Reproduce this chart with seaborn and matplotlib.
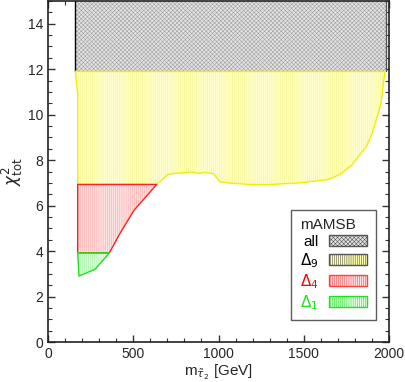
import numpy as np
import pandas as pd
import matplotlib
matplotlib.use("Agg")
import matplotlib.pyplot as plt
import seaborn as sns
from matplotlib.patches import Patch

# ---- data ----
all_x = [160, 1985, 1985, 160]
all_y = [11.9, 11.9, 15.0, 15.0]

d9_x = [160, 174, 174, 637, 706, 755, 833, 891, 920, 970, 1009, 1048, 1185, 1283,
        1478, 1644, 1712, 1781, 1869, 1898, 1937, 1953, 1976]
d9_y = [11.9, 10.9, 6.93, 6.93, 7.38, 7.42, 7.48, 7.42, 7.46, 7.40, 7.05, 7.00, 6.93, 6.92,
        7.00, 7.15, 7.37, 7.78, 8.62, 9.13, 10.06, 10.5, 11.9]

d4_x = [174, 174, 360, 420, 505, 570, 637]
d4_y = [6.93, 3.92, 3.92, 4.75, 5.8, 6.35, 6.93]

d1_x = [174, 182, 276, 360]
d1_y = [3.92, 2.9, 3.2, 3.92]

sns.set_style("ticks")
plt.rcParams['font.family'] = ['Liberation Sans', 'DejaVu Sans']
plt.rcParams['hatch.linewidth'] = 0.4

fig = plt.figure(figsize=(4.05, 3.82), dpi=100)
ax = fig.add_axes([48/405, 1-342/382, 341/405, 341/382])

GREY_F, GREY_H = '#e4e4e4', '#a0a0a0'
YEL_F, YEL_H = '#ffffd0', '#f6f680'
RED_F, RED_H = '#ffe4e4', '#ffa0a0'
GRN_F, GRN_H = '#e8ffe8', '#90f090'

# grey region
ax.fill(all_x, all_y, facecolor=GREY_F, edgecolor=GREY_H, hatch='xxxxxxxx', lw=0)
ax.plot([all_x[0], all_x[0]], [11.9, 15], color='black', lw=1)
ax.plot([all_x[1], all_x[1]], [11.9, 15], color='#555555', lw=1)

# yellow region
ax.fill(d9_x + [1976], d9_y + [11.9], facecolor=YEL_F, edgecolor=YEL_H, hatch='||||||||', lw=0)
df9 = pd.DataFrame({'x': d9_x + [160], 'y': d9_y + [11.9]})
sns.lineplot(data=df9, x='x', y='y', sort=False, estimator=None, color='#f0f000', lw=1, ax=ax)

# red region
ax.fill(d4_x, d4_y, facecolor=RED_F, edgecolor=RED_H, hatch='||||||||', lw=0)
df4 = pd.DataFrame({'x': d4_x + [d4_x[0]], 'y': d4_y + [d4_y[0]]})
sns.lineplot(data=df4, x='x', y='y', sort=False, estimator=None, color='#ff2020', lw=1, ax=ax)

# green region
ax.fill(d1_x, d1_y, facecolor=GRN_F, edgecolor=GRN_H, hatch='||||||||', lw=0)
df1 = pd.DataFrame({'x': d1_x + [d1_x[0]], 'y': d1_y + [d1_y[0]]})
sns.lineplot(data=df1, x='x', y='y', sort=False, estimator=None, color='#20e020', lw=1, ax=ax)

ax.set_xlim(0, 2000)
ax.set_ylim(0, 15)
ax.set_xticks(np.arange(0, 2001, 500))
ax.set_xticks(np.arange(0, 2001, 100), minor=True)
ax.set_yticks(np.arange(0, 15, 2))
ax.set_yticks(np.arange(0, 15.01, 0.5), minor=True)
ax.tick_params(which='both', direction='in', top=True, right=True, labelsize=10, color='#333333')
ax.tick_params(which='major', length=5, width=1)
ax.tick_params(which='minor', length=3, width=0.8)
for s in ax.spines.values():
    s.set_linewidth(1.2)
    s.set_color('#222222')

ax.set_xlabel(r'm$_{\tilde{\tau}_2}$ [GeV]', fontsize=11, labelpad=1)
ax.set_ylabel(r'$\chi^2_{\rm tot}$', fontsize=12, labelpad=2)

handles = [
    Patch(facecolor=GREY_F, edgecolor='#555555', hatch='xxxxxxxx', lw=1),
    Patch(facecolor='#ffffb0', edgecolor='#555555', hatch='||||||||', lw=1),
    Patch(facecolor=RED_F, edgecolor='#ff4040', hatch='||||||||', lw=1),
    Patch(facecolor=GRN_F, edgecolor='#20e020', hatch='||||||||', lw=1),
]
labels = ['all', r'$\Delta_9$', r'$\Delta_4$', r'$\Delta_1$']
leg = ax.legend(handles, labels, title='mAMSB', loc='lower right',
                bbox_to_anchor=(0.961, 0.0645), markerfirst=False, fontsize=11,
                title_fontsize=11, frameon=True, fancybox=False, edgecolor='#333333',
                handlelength=2.5, handleheight=0.75, labelspacing=0.15, borderpad=0.55,
                handletextpad=0.7, borderaxespad=0)
leg.get_frame().set_linewidth(1.0)
leg._legend_box.align = 'left'
for t, c in zip(leg.get_texts(), ['black', 'black', 'red', '#20e020']):
    t.set_color(c)

fig.savefig('out.png', dpi=100)
